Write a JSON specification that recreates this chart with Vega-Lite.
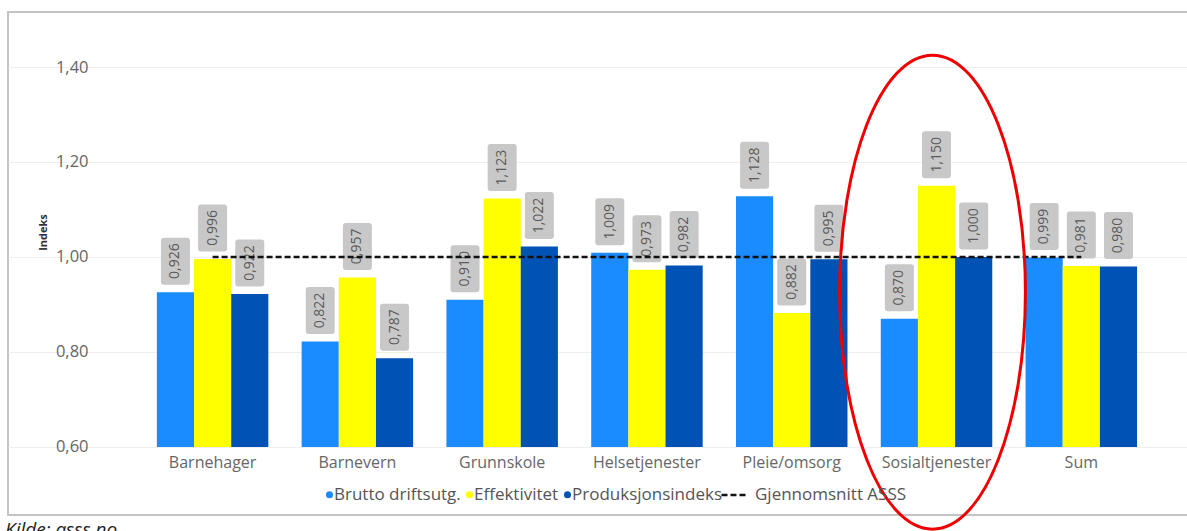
{
  "$schema": "https://vega.github.io/schema/vega-lite/v6.json",
  "autosize": {"type": "none"},
  "padding": {"left": 8, "top": 12, "right": 0, "bottom": 16},
  "width": 1180,
  "height": 503,
  "background": "white",
  "config": {
    "font": "Open Sans",
    "view": {"stroke": "#c4c4c4", "strokeWidth": 2},
    "locale": {"number": {"decimal": ",", "thousands": " ", "grouping": [3], "currency": ["", " kr"]}}
  },
  "title": {
    "text": "Kilde: asss.no",
    "orient": "bottom",
    "anchor": "start",
    "frame": "group",
    "fontStyle": "italic",
    "fontWeight": "normal",
    "fontSize": 19,
    "color": "#222222",
    "offset": -14,
    "dx": -3
  },
  "datasets": {
    "bars": [
      {"kategori": "Barnehager", "serie": "Brutto driftsutg.", "verdi": 0.926},
      {"kategori": "Barnehager", "serie": "Effektivitet", "verdi": 0.996},
      {"kategori": "Barnehager", "serie": "Produksjonsindeks", "verdi": 0.922},
      {"kategori": "Barnevern", "serie": "Brutto driftsutg.", "verdi": 0.822},
      {"kategori": "Barnevern", "serie": "Effektivitet", "verdi": 0.957},
      {"kategori": "Barnevern", "serie": "Produksjonsindeks", "verdi": 0.787},
      {"kategori": "Grunnskole", "serie": "Brutto driftsutg.", "verdi": 0.910},
      {"kategori": "Grunnskole", "serie": "Effektivitet", "verdi": 1.123},
      {"kategori": "Grunnskole", "serie": "Produksjonsindeks", "verdi": 1.022},
      {"kategori": "Helsetjenester", "serie": "Brutto driftsutg.", "verdi": 1.009},
      {"kategori": "Helsetjenester", "serie": "Effektivitet", "verdi": 0.973},
      {"kategori": "Helsetjenester", "serie": "Produksjonsindeks", "verdi": 0.982},
      {"kategori": "Pleie/omsorg", "serie": "Brutto driftsutg.", "verdi": 1.128},
      {"kategori": "Pleie/omsorg", "serie": "Effektivitet", "verdi": 0.882},
      {"kategori": "Pleie/omsorg", "serie": "Produksjonsindeks", "verdi": 0.995},
      {"kategori": "Sosialtjenester", "serie": "Brutto driftsutg.", "verdi": 0.870},
      {"kategori": "Sosialtjenester", "serie": "Effektivitet", "verdi": 1.150},
      {"kategori": "Sosialtjenester", "serie": "Produksjonsindeks", "verdi": 1.000},
      {"kategori": "Sum", "serie": "Brutto driftsutg.", "verdi": 0.999},
      {"kategori": "Sum", "serie": "Effektivitet", "verdi": 0.981},
      {"kategori": "Sum", "serie": "Produksjonsindeks", "verdi": 0.980}
    ],
    "snitt": [
      {"kategori": "Barnehager", "linje": "Gjennomsnitt ASSS", "snitt": 1.0},
      {"kategori": "Barnevern", "linje": "Gjennomsnitt ASSS", "snitt": 1.0},
      {"kategori": "Grunnskole", "linje": "Gjennomsnitt ASSS", "snitt": 1.0},
      {"kategori": "Helsetjenester", "linje": "Gjennomsnitt ASSS", "snitt": 1.0},
      {"kategori": "Pleie/omsorg", "linje": "Gjennomsnitt ASSS", "snitt": 1.0},
      {"kategori": "Sosialtjenester", "linje": "Gjennomsnitt ASSS", "snitt": 1.0},
      {"kategori": "Sum", "linje": "Gjennomsnitt ASSS", "snitt": 1.0}
    ],
    "markering": [
      {"kategori": "Sosialtjenester"}
    ]
  },
  "encoding": {
    "x": {
      "field": "kategori",
      "type": "nominal",
      "sort": null,
      "scale": {"paddingInner": 0.23, "paddingOuter": 0.69, "align": 0.745},
      "axis": {
        "title": null,
        "orient": "bottom",
        "offset": -68,
        "ticks": false,
        "domain": false,
        "grid": false,
        "labelAngle": 0,
        "labelPadding": 7,
        "labelFontSize": 16,
        "labelColor": "#666666"
      }
    }
  },
  "layer": [
    {
      "data": {"name": "bars"},
      "mark": {"type": "bar"},
      "encoding": {
        "xOffset": {"field": "serie", "type": "nominal", "sort": ["Brutto driftsutg.", "Effektivitet", "Produksjonsindeks"], "scale": {"paddingInner": 0, "paddingOuter": 0}},
        "y": {
          "field": "verdi",
          "type": "quantitative",
          "scale": {"domain": [0.4568, 1.5158], "nice": false, "zero": false},
          "axis": {
            "title": "Indeks",
            "titleFontSize": 11,
            "titleFontWeight": "bold",
            "titleColor": "#333333",
            "titleX": -57,
            "titleY": 220,
            "titleBaseline": "middle",
            "offset": -92,
            "values": [0.6, 0.8, 1.0, 1.2, 1.4],
            "format": ".2f",
            "ticks": false,
            "domain": false,
            "grid": true,
            "gridColor": "#efefef",
            "gridWidth": 1,
            "labelPadding": 12,
            "labelFontSize": 16.5,
            "labelColor": "#666666"
          }
        },
        "y2": {"datum": 0.6},
        "color": {
          "field": "serie",
          "type": "nominal",
          "scale": {"domain": ["Brutto driftsutg.", "Effektivitet", "Produksjonsindeks"], "range": ["#1A8CFF", "#FFFF00", "#0052B5"]},
          "legend": {
            "title": null,
            "orient": "none",
            "legendX": 313,
            "legendY": 474,
            "direction": "horizontal",
            "symbolType": "circle",
            "symbolSize": 50,
            "labelFontSize": 17,
            "labelColor": "#555555",
            "labelOffset": -4,
            "columnPadding": -6,
            "padding": 0
          }
        }
      }
    },
    {
      "data": {"name": "bars"},
      "mark": {
        "type": "point",
        "shape": "M-0.49,-1 L0.49,-1 Q0.617,-1 0.617,-0.872 L0.617,0.872 Q0.617,1 0.49,1 L-0.49,1 Q-0.617,1 -0.617,0.872 L-0.617,-0.872 Q-0.617,-1 -0.49,-1 Z",
        "filled": true,
        "color": "#c8c8c8",
        "opacity": 1,
        "size": 2209,
        "yOffset": -31
      },
      "encoding": {
        "xOffset": {"field": "serie", "type": "nominal", "sort": ["Brutto driftsutg.", "Effektivitet", "Produksjonsindeks"]},
        "y": {"field": "verdi", "type": "quantitative"}
      }
    },
    {
      "data": {"name": "bars"},
      "mark": {
        "type": "text",
        "angle": 270,
        "align": "center",
        "baseline": "middle",
        "fontSize": 14,
        "color": "#5a5a5a",
        "yOffset": -31
      },
      "encoding": {
        "xOffset": {"field": "serie", "type": "nominal", "sort": ["Brutto driftsutg.", "Effektivitet", "Produksjonsindeks"]},
        "y": {"field": "verdi", "type": "quantitative"},
        "text": {"field": "verdi", "type": "quantitative", "format": ".3f"}
      }
    },
    {
      "data": {"name": "snitt"},
      "mark": {"type": "line", "color": "#111111", "strokeWidth": 2.5},
      "encoding": {
        "y": {"field": "snitt", "type": "quantitative"},
        "strokeDash": {
          "field": "linje",
          "type": "nominal",
          "scale": {"range": [[6, 3]]},
          "legend": {
            "title": null,
            "orient": "none",
            "legendX": 712,
            "legendY": 468,
            "symbolType": "stroke",
            "symbolStrokeColor": "#111111",
            "symbolStrokeWidth": 2.5,
            "symbolSize": 729,
            "labelFontSize": 17,
            "labelColor": "#555555",
            "labelOffset": 5,
            "padding": 0
          }
        }
      }
    },
    {
      "data": {"name": "markering"},
      "mark": {
        "type": "point",
        "shape": "M-0.392,0 A0.392,1 0 1,1 0.392,0 A0.392,1 0 1,1 -0.392,0 Z",
        "filled": false,
        "stroke": "#ee0000",
        "strokeWidth": 3,
        "opacity": 1,
        "size": 224676,
        "xOffset": -4
      },
      "encoding": {
        "y": {"datum": 0.926}
      }
    }
  ]
}
